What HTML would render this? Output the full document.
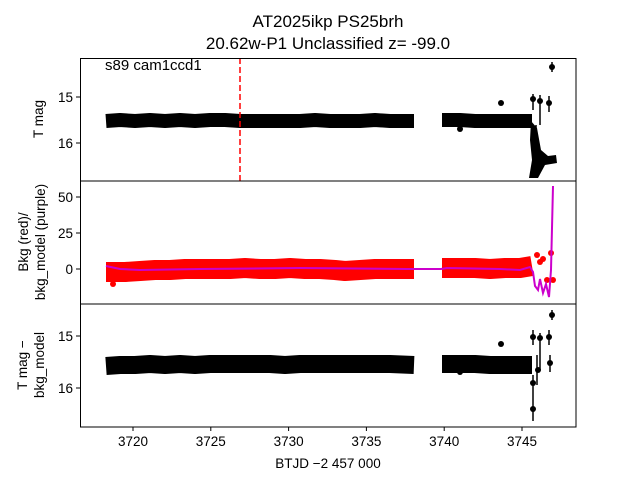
<!DOCTYPE html>
<html><head><meta charset="utf-8"><style>
body{margin:0;background:#fff}
svg{display:block;font-family:"Liberation Sans","DejaVu Sans",sans-serif}
</style></head><body>
<svg width="640" height="480" viewBox="0 0 640 480" xmlns="http://www.w3.org/2000/svg">
<rect width="640" height="480" fill="#fff"/>
<text x="328" y="27" font-size="17" text-anchor="middle">AT2025ikp  PS25brh</text>
<text x="328" y="49" font-size="17" text-anchor="middle">20.62w-P1 Unclassified z= -99.0</text>

<!-- TOP panel -->
<g stroke="#000" stroke-linecap="butt" stroke-linejoin="round" fill="none">
<polyline stroke-width="14" points="106,121 120,120 135,121 150,120 165,121 180,120 195,121 210,120 225,120 240,121 255,121 270,121 285,121 300,121 315,120 330,121 345,121 360,121 375,120 390,121 414,121"/>
<polyline stroke-width="14" points="442,120 460,120 475,121 490,121 505,121 520,121 532,121"/>
</g>
<g fill="#000">
<circle cx="501" cy="103" r="3"/><circle cx="552" cy="67" r="3"/>
<circle cx="533" cy="99" r="3"/><circle cx="540" cy="101" r="3"/><circle cx="549" cy="103" r="3"/>
<circle cx="460" cy="129" r="3"/>
<polygon points="531,121 537,128 541,150 548,156 556,155 557,163 545,165 538,178 529,178 532,160 530,140"/>
</g>
<g stroke="#000" stroke-width="1.5">
<line x1="533" y1="94" x2="533" y2="110"/><line x1="540" y1="95" x2="540" y2="125"/>
<line x1="549" y1="96" x2="549" y2="112"/><line x1="552" y1="62" x2="552" y2="72"/>
<line x1="536" y1="125" x2="536" y2="178"/>
</g>
<line x1="240" y1="58" x2="240" y2="181" stroke="#f00" stroke-width="1.5" stroke-dasharray="6,3"/>
<text x="105" y="70" font-size="15">s89 cam1ccd1</text>

<!-- MIDDLE panel -->
<g stroke="#f00" stroke-linecap="butt" stroke-linejoin="round" fill="none">
<polyline stroke-width="20" points="106,272 125,272 140,271 155,270 170,270 185,269 200,269 215,269 230,269 245,268 260,269 275,269 290,268 305,269 320,269 335,270 345,271 360,270 375,269 390,269 414,269"/>
<polyline stroke-width="20" points="442,268 460,268 475,268 490,269 505,268 520,268 532,266"/>
</g>
<g fill="#f00">
<circle cx="537" cy="255" r="3"/><circle cx="543" cy="259" r="3"/><circle cx="551" cy="253" r="3"/><circle cx="547" cy="280" r="3"/><circle cx="553" cy="280" r="3"/><circle cx="540" cy="262" r="3"/><circle cx="113" cy="284" r="3"/>
</g>
<polyline fill="none" stroke="#c0c" stroke-width="2" points="106,266 120,269 140,270 200,269 300,268 407,269 441,269 447,268 500,269 520,270 530,267 533,272 535,286 538,290 540,279 543,293 546,284 549,297 551,270 553,186"/>

<!-- BOTTOM panel -->
<g stroke="#000" stroke-linecap="butt" stroke-linejoin="round" fill="none">
<polyline stroke-width="18" points="106,366 120,365 135,365 150,364 165,365 180,364 195,365 210,364 225,364 240,364 255,364 270,364 285,365 300,364 315,364 330,364 345,364 360,364 375,364 390,364 414,365"/>
<polyline stroke-width="18" points="442,364 460,364 475,364 490,365 505,365 520,365 532,365"/>
</g>
<g fill="#000">
<circle cx="501" cy="344" r="3"/><circle cx="552" cy="315" r="3"/>
<circle cx="533" cy="337" r="3"/><circle cx="540" cy="338" r="3"/><circle cx="549" cy="337" r="3"/>
<circle cx="460" cy="372" r="3"/><circle cx="550" cy="363" r="3"/><circle cx="533" cy="409" r="3"/>
<circle cx="533" cy="383" r="3"/><circle cx="538" cy="370" r="3"/>
</g>
<g stroke="#000" stroke-width="1.5">
<line x1="533" y1="330" x2="533" y2="345"/><line x1="540" y1="333" x2="540" y2="370"/>
<line x1="549" y1="330" x2="549" y2="345"/><line x1="550" y1="355" x2="550" y2="372"/>
<line x1="552" y1="310" x2="552" y2="320"/><line x1="533" y1="375" x2="533" y2="421"/>
<line x1="537" y1="355" x2="537" y2="385"/>
</g>

<!-- axes frames -->
<g fill="none" stroke="#000" stroke-width="1">
<rect x="80.5" y="58.5" width="495.5" height="122.5"/>
<rect x="80.5" y="181" width="495.5" height="123"/>
<rect x="80.5" y="304" width="495.5" height="123"/>
</g>
<g stroke="#000">
<line x1="76" y1="97" x2="80" y2="97"/><line x1="76" y1="143" x2="80" y2="143"/>
<line x1="76" y1="197" x2="80" y2="197"/><line x1="76" y1="233" x2="80" y2="233"/><line x1="76" y1="269" x2="80" y2="269"/>
<line x1="76" y1="336" x2="80" y2="336"/><line x1="76" y1="388" x2="80" y2="388"/>
<line x1="133" y1="427" x2="133" y2="431"/><line x1="210.8" y1="427" x2="210.8" y2="431"/><line x1="288.6" y1="427" x2="288.6" y2="431"/><line x1="366.4" y1="427" x2="366.4" y2="431"/><line x1="444.2" y1="427" x2="444.2" y2="431"/><line x1="522" y1="427" x2="522" y2="431"/>
</g>
<g font-size="13.5" text-anchor="end">
<text x="73" y="102">15</text><text x="73" y="148">16</text>
<text x="73" y="202">50</text><text x="73" y="238">25</text><text x="73" y="274">0</text>
<text x="73" y="341">15</text><text x="73" y="393">16</text>
</g>
<g font-size="13.5" text-anchor="middle">
<text x="133" y="446">3720</text><text x="210.8" y="446">3725</text><text x="288.6" y="446">3730</text><text x="366.4" y="446">3735</text><text x="444.2" y="446">3740</text><text x="522" y="446">3745</text>
<text x="328" y="468">BTJD −2 457 000</text>
</g>
<g font-size="13.5" text-anchor="middle">
<text transform="translate(43,119) rotate(-90)">T mag</text>
<text transform="translate(28,242) rotate(-90)">Bkg (red)/</text>
<text transform="translate(45,242) rotate(-90)">bkg_model (purple)</text>
<text transform="translate(27,365) rotate(-90)">T mag −</text>
<text transform="translate(44,365) rotate(-90)">bkg_model</text>
</g>
</svg>
</body></html>
